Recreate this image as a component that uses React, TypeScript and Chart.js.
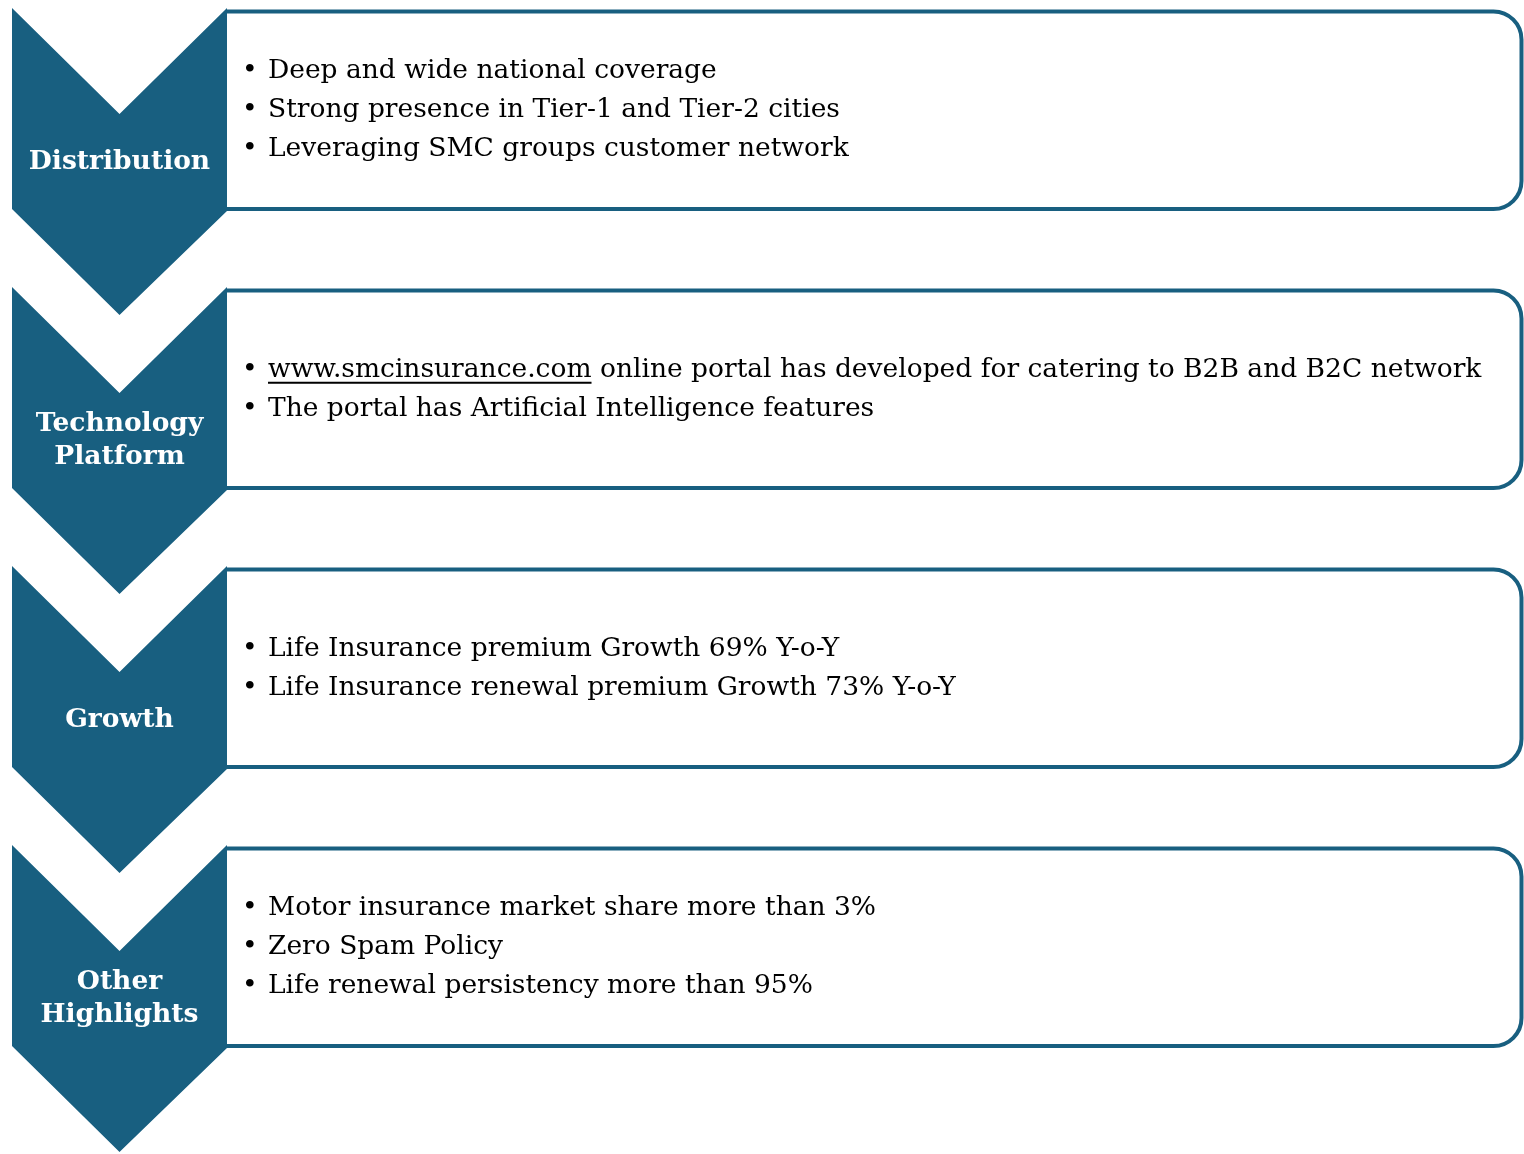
import React, { useEffect, useRef } from "react";
import { Chart, registerables } from "chart.js";

Chart.register(...registerables);

// ---- data ----
const categories: string[][] = [
  ["Distribution"],
  ["Technology", "Platform"],
  ["Growth"],
  ["Other", "Highlights"],
];

const bulletsDistribution = [
  "Deep and wide national coverage",
  "Strong presence in Tier-1 and Tier-2 cities",
  "Leveraging SMC groups customer network",
];
const bulletsTechnology = [
  "www.smcinsurance.com online portal has developed for catering to B2B and B2C network",
  "The portal has Artificial Intelligence features",
];
const bulletsGrowth = [
  "Life Insurance premium Growth 69% Y-o-Y",
  "Life Insurance renewal premium Growth 73% Y-o-Y",
];
const bulletsOther = [
  "Motor insurance market share more than 3%",
  "Zero Spam Policy",
  "Life renewal persistency more than 95%",
];
const bulletLists = [bulletsDistribution, bulletsTechnology, bulletsGrowth, bulletsOther];
const linkText = "www.smcinsurance.com";

// ---- layout (in scale units, 1 unit = 1px) ----
const W = 1524;
const H = 1154;
const FIRST_TOP = 8;
const STEP = 279;
const CHEV_L = 12;
const CHEV_R = 227;
const CHEV_MID = 119.5;
const NOTCH = 106;
const BODY_H = 201;
const POINT = 307;
const BOX_R = 1521.5;
const RADIUS = 28;
const COLOR = "#185f80";
const TEXT_FONT = "26.5px 'DejaVu Serif'";
const LABEL_FONT = "bold 26.5px 'DejaVu Serif'";

const diagramPlugin = {
  id: "diagram",
  afterDraw(chart: any) {
    const ctx: CanvasRenderingContext2D = chart.ctx;
    const xs = chart.scales.x;
    const ys = chart.scales.y;
    const px = (v: number) => xs.getPixelForValue(v);
    const py = (v: number) => ys.getPixelForValue(v);
    ctx.save();
    categories.forEach((label, i) => {
      const top = FIRST_TOP + i * STEP;
      // box
      const bt = top + 3.5;
      const bb = top + BODY_H;
      ctx.beginPath();
      ctx.moveTo(px(CHEV_R), py(bt));
      ctx.lineTo(px(BOX_R - RADIUS), py(bt));
      ctx.arcTo(px(BOX_R), py(bt), px(BOX_R), py(bt + RADIUS), RADIUS);
      ctx.lineTo(px(BOX_R), py(bb - RADIUS));
      ctx.arcTo(px(BOX_R), py(bb), px(BOX_R - RADIUS), py(bb), RADIUS);
      ctx.lineTo(px(CHEV_R), py(bb));
      ctx.strokeStyle = COLOR;
      ctx.lineWidth = 4;
      ctx.stroke();
      // chevron
      ctx.beginPath();
      ctx.moveTo(px(CHEV_L), py(top));
      ctx.lineTo(px(CHEV_MID), py(top + NOTCH));
      ctx.lineTo(px(CHEV_R), py(top));
      ctx.lineTo(px(CHEV_R), py(top + BODY_H + 2));
      ctx.lineTo(px(CHEV_MID), py(top + POINT));
      ctx.lineTo(px(CHEV_L), py(top + BODY_H));
      ctx.closePath();
      ctx.fillStyle = COLOR;
      ctx.fill();
      // label
      ctx.fillStyle = "#ffffff";
      ctx.font = LABEL_FONT;
      ctx.textAlign = "center";
      ctx.textBaseline = "middle";
      const lc = top + 154;
      label.forEach((t, k) => {
        const y = lc + (k - (label.length - 1) / 2) * 33;
        ctx.fillText(t, px(CHEV_MID), py(y));
      });
      // bullets
      const items = bulletLists[i];
      const center = (bt + bb) / 2;
      ctx.font = TEXT_FONT;
      ctx.textAlign = "left";
      ctx.fillStyle = "#000000";
      items.forEach((t, k) => {
        const y = center + (k - (items.length - 1) / 2) * 39;
        ctx.fillText("•", px(242), py(y));
        ctx.fillText(t, px(268), py(y));
        if (t.startsWith(linkText)) {
          const w = ctx.measureText(linkText).width;
          ctx.fillRect(px(268), py(y + 12), w, 2);
        }
      });
    });
    ctx.restore();
  },
};

export default function App() {
  const ref = useRef<HTMLCanvasElement | null>(null);
  useEffect(() => {
    document.body.style.margin = "0";
    const chart = new Chart(ref.current!, {
      type: "scatter",
      data: { datasets: [{ data: [], pointRadius: 0 }] },
      options: {
        animation: false,
        responsive: false,
        devicePixelRatio: 1,
        layout: { padding: 0 },
        plugins: { legend: { display: false }, tooltip: { enabled: false } },
        scales: {
          x: { type: "linear", min: 0, max: W, display: false },
          y: { type: "linear", min: 0, max: H, reverse: true, display: false },
        },
      },
      plugins: [diagramPlugin],
    });
    return () => chart.destroy();
  }, []);
  return (
    <div style={{ position: "absolute", left: 0, top: 0, width: W, height: H, background: "#fff" }}>
      <canvas ref={ref} width={W} height={H} style={{ width: W, height: H, display: "block" }} />
    </div>
  );
}
